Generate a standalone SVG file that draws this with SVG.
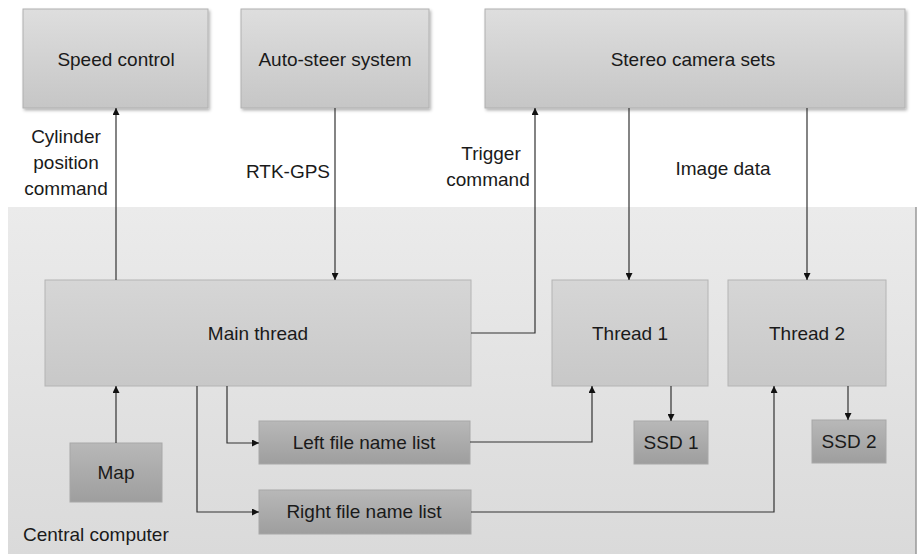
<svg xmlns="http://www.w3.org/2000/svg" width="918" height="554" viewBox="0 0 918 554">
<defs>
<linearGradient id="gTop" x1="0" y1="0" x2="0" y2="1"><stop offset="0" stop-color="#dedede"/><stop offset="1" stop-color="#c6c6c6"/></linearGradient>
<linearGradient id="gMid" x1="0" y1="0" x2="0" y2="1"><stop offset="0" stop-color="#d6d6d6"/><stop offset="1" stop-color="#c8c8c8"/></linearGradient>
<linearGradient id="gDark" x1="0" y1="0" x2="0" y2="1"><stop offset="0" stop-color="#b8b8b8"/><stop offset="1" stop-color="#9e9e9e"/></linearGradient>
<linearGradient id="gBg" x1="0" y1="0" x2="0" y2="1"><stop offset="0" stop-color="#ebebeb"/><stop offset="1" stop-color="#dadada"/></linearGradient>
<filter id="sh" x="-5%" y="-5%" width="115%" height="120%"><feDropShadow dx="1.5" dy="2" stdDeviation="1.5" flood-color="#000" flood-opacity="0.3"/></filter>
<marker id="ah" viewBox="0 0 10 10" refX="10" refY="5" markerWidth="7" markerHeight="7" markerUnits="userSpaceOnUse" orient="auto"><path d="M0,0 L10,5 L0,10 z" fill="#111"/></marker>
</defs>
<style>
text{font-family:"Liberation Sans",Arial,sans-serif;font-size:19px;fill:#1a1a1a}
.c{text-anchor:middle}
.top{fill:url(#gTop);stroke:#b0b0b0;stroke-width:1;filter:url(#sh)}
.mid{fill:url(#gMid);stroke:#b4b4b4;stroke-width:1}
.dark{fill:url(#gDark);stroke:#a8a8a8;stroke-width:1}
.ln{fill:none;stroke:#333;stroke-width:1.2;marker-end:url(#ah)}
</style>
<rect x="0" y="0" width="918" height="554" fill="#ffffff"/>
<g id="central-computer">
<rect x="8" y="207" width="908" height="347" fill="url(#gBg)"/>
<line x1="916" y1="207" x2="916" y2="554" stroke="#999" stroke-width="1.5"/>
<text x="23" y="541">Central computer</text>
</g>
<g id="speed-control"><rect class="top" x="23" y="9" width="185" height="99"/><text class="c" x="116" y="66">Speed control</text></g>
<g id="auto-steer"><rect class="top" x="241" y="9" width="188" height="99"/><text class="c" x="335" y="66">Auto-steer system</text></g>
<g id="stereo-camera"><rect class="top" x="485" y="9" width="420" height="99"/><text class="c" x="693" y="66">Stereo camera sets</text></g>
<g id="main-thread"><rect class="mid" x="45" y="280" width="426" height="106"/><text class="c" x="258" y="340">Main thread</text></g>
<g id="thread-1"><rect class="mid" x="552" y="280" width="156" height="106"/><text class="c" x="630" y="340">Thread 1</text></g>
<g id="thread-2"><rect class="mid" x="728" y="280" width="158" height="106"/><text class="c" x="807" y="340">Thread 2</text></g>
<g id="ssd-1"><rect class="dark" x="634" y="421" width="74" height="43"/><text class="c" x="671" y="449">SSD 1</text></g>
<g id="ssd-2"><rect class="dark" x="812" y="420" width="74" height="43"/><text class="c" x="849" y="448">SSD 2</text></g>
<g id="map"><rect class="dark" x="70" y="443" width="92" height="59"/><text class="c" x="116" y="479">Map</text></g>
<g id="left-list"><rect class="dark" x="259" y="421" width="211" height="43"/><text class="c" x="364" y="449">Left file name list</text></g>
<g id="right-list"><rect class="dark" x="259" y="490" width="212" height="44"/><text class="c" x="364" y="518">Right file name list</text></g>
<g id="connectors">
<path class="ln" d="M116,280 V108"/>
<path class="ln" d="M335,108 V280"/>
<path class="ln" d="M471,333 H535 V108"/>
<path class="ln" d="M629,108 V280"/>
<path class="ln" d="M807,108 V280"/>
<path class="ln" d="M116,443 V386"/>
<path class="ln" d="M227,386 V443 H259"/>
<path class="ln" d="M197,386 V512 H259"/>
<path class="ln" d="M470,442 H592 V386"/>
<path class="ln" d="M471,512 H774 V386"/>
<path class="ln" d="M671,386 V421"/>
<path class="ln" d="M848,386 V420"/>
</g>
<g id="labels">
<text class="c" x="66" y="143">Cylinder</text>
<text class="c" x="66" y="169">position</text>
<text class="c" x="66" y="195">command</text>
<text class="c" x="288" y="178">RTK-GPS</text>
<text class="c" x="491" y="160">Trigger</text>
<text class="c" x="488" y="186">command</text>
<text class="c" x="723" y="175">Image data</text>
</g>
</svg>
